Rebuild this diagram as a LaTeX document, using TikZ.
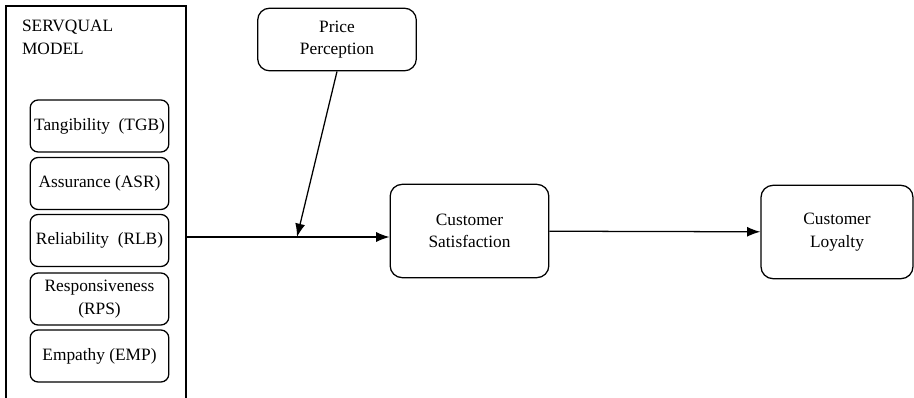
\documentclass[tikz,border=0pt]{standalone}
\usepackage{fontspec}
\setmainfont{Liberation Serif}
\usetikzlibrary{arrows.meta,fit}

\begin{document}
\begin{tikzpicture}[x=0.75pt, y=-0.75pt, line width=0.95pt,
  font=\fontsize{13}{17}\selectfont,
  dimbox/.style={draw, rounded corners=6pt, align=center,
    minimum width=104pt, minimum height=39pt, inner sep=1pt},
  construct/.style={draw, rounded corners=9pt, align=center,
    minimum width=119pt, inner sep=2pt},
  link/.style={-{Latex[length=10pt,width=7.5pt]}}]
  \useasboundingbox (0,0) rectangle (914,397);

  % servqual dimensions
  \node[fit={(6,6) (186,404)}, draw, inner sep=0pt] (servqual) {};
  \node[anchor=north west, align=left] (title) at (17,15) {SERVQUAL\\MODEL};
  \node[dimbox] (tgb) at (99.5,126) {Tangibility~ (TGB)};
  \node[dimbox] (asr) at (99.5,183.5) {Assurance (ASR)};
  \node[dimbox] (rlb) at (99.5,240.5) {Reliability~ (RLB)};
  \node[dimbox] (rps) at (99.5,299) {Responsiveness\\(RPS)};
  \node[dimbox] (emp) at (99.5,356) {Empathy (EMP)};

  % constructs
  \node[construct, minimum height=47pt] (price) at (337,39.5) {Price\\Perception};
  \node[construct, minimum height=70pt] (cs) at (469.5,231) {Customer\\Satisfaction};
  \node[construct, minimum width=114pt, minimum height=70pt] (cl) at (837,232) {Customer\\Loyalty};

  \coordinate (join) at (297,237);
  \draw[link] (servqual.east |- join) -- (cs.west |- join);
  \draw[link] (price.south) -- (join);
  \draw[link] (cs) -- (cl);
\end{tikzpicture}
\end{document}
